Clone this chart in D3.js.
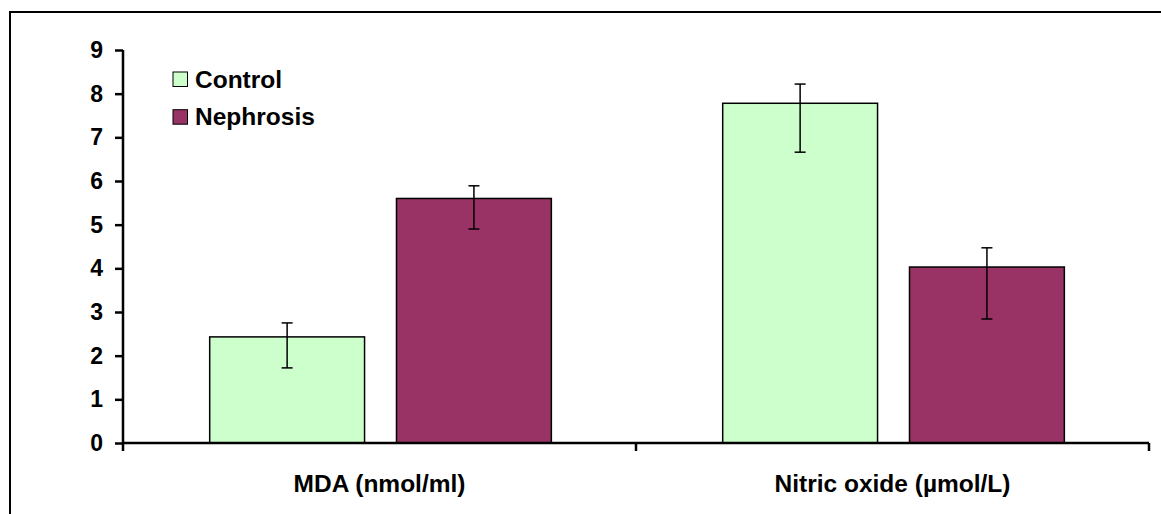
<!DOCTYPE html>
<html>
<head>
<meta charset="utf-8">
<script src="https://cdnjs.cloudflare.com/ajax/libs/d3/7.8.5/d3.min.js"></script>
<style>
  body { margin: 0; background: #fff; }
  svg text { font-family: "Liberation Sans", Arial, sans-serif; font-weight: bold; }
</style>
</head>
<body>
<div id="chart"></div>
<script>
var categories = ['MDA (nmol/ml)', 'Nitric oxide (\u00b5mol/L)'];
var groups = ['Control', 'Nephrosis'];
var colors = ['#ccffcc', '#993366'];
var controlValues = [2.43, 7.78];
var nephrosisValues = [5.60, 4.03];
// error bar ends [low, high]
var controlErr = [[1.72, 2.75], [6.66, 8.22]];
var nephrosisErr = [[4.90, 5.89], [2.84, 4.47]];
var yTicks = [0, 1, 2, 3, 4, 5, 6, 7, 8, 9];

var width = 1161, height = 514;
var svg = d3.select('#chart').append('svg')
    .attr('width', width)
    .attr('height', height);

// outer frame (only left and top visible)
svg.append('rect')
    .attr('x', 10).attr('y', 12)
    .attr('width', 1200).attr('height', 600)
    .attr('fill', 'none')
    .attr('stroke', '#000')
    .attr('stroke-width', 2);

var x0 = d3.scaleBand().domain(categories).range([123, 1149]);
var x1 = d3.scaleBand().domain(groups)
    .range([x0.bandwidth() * 0.169, x0.bandwidth() * 0.835])
    .paddingInner(0.171);
var y = d3.scaleLinear().domain([0, 9]).range([443, 50]);

var data = [];
categories.forEach(function(c, i) {
  data.push({cat: c, group: groups[0], value: controlValues[i], err: controlErr[i], color: colors[0]});
  data.push({cat: c, group: groups[1], value: nephrosisValues[i], err: nephrosisErr[i], color: colors[1]});
});

var g = svg.append('g');

g.selectAll('.bar')
  .data(data)
  .enter().append('rect')
    .attr('class', 'bar')
    .attr('x', function(d) { return x0(d.cat) + x1(d.group); })
    .attr('y', function(d) { return y(d.value); })
    .attr('width', x1.bandwidth())
    .attr('height', function(d) { return y(0) - y(d.value); })
    .attr('fill', function(d) { return d.color; })
    .attr('stroke', '#000')
    .attr('stroke-width', 1.5);

// error bars
var eb = g.selectAll('.err')
  .data(data)
  .enter().append('g')
    .attr('class', 'err')
    .attr('transform', function(d) { return 'translate(' + (x0(d.cat) + x1(d.group) + x1.bandwidth() / 2) + ',0)'; });
eb.append('line')
    .attr('y1', function(d) { return y(d.err[0]); })
    .attr('y2', function(d) { return y(d.err[1]); })
    .attr('stroke', '#000').attr('stroke-width', 1.5);
eb.selectAll('.cap')
  .data(function(d) { return d.err; })
  .enter().append('line')
    .attr('x1', -5.5).attr('x2', 5.5)
    .attr('y1', function(v) { return y(v); })
    .attr('y2', function(v) { return y(v); })
    .attr('stroke', '#000').attr('stroke-width', 1.5);

// y axis
var yAxis = svg.append('g')
    .attr('transform', 'translate(123,0)')
    .call(d3.axisLeft(y).tickValues(yTicks).tickSize(8).tickPadding(12));
yAxis.attr('font-size', null).attr('font-family', null);
yAxis.select('.domain').attr('stroke-width', 2.5).attr('d', 'M0,' + y(9) + 'V' + (y(0) + 8));
yAxis.selectAll('.tick line').attr('stroke-width', 2.5);
yAxis.selectAll('text').style('font-size', '23px').attr('fill', '#000');

// x axis with ticks at category edges
var xAxis = svg.append('g').attr('transform', 'translate(0,' + y(0) + ')');
xAxis.append('line')
    .attr('x1', 123).attr('x2', 1149)
    .attr('stroke', '#000').attr('stroke-width', 2.5);
xAxis.selectAll('.xt')
  .data(categories.slice(1).concat(['end']))
  .enter().append('line')
    .attr('x1', function(d) { return d === 'end' ? 1149 : x0(d); })
    .attr('x2', function(d) { return d === 'end' ? 1149 : x0(d); })
    .attr('y1', 0).attr('y2', 8)
    .attr('stroke', '#000').attr('stroke-width', 2.5);
xAxis.selectAll('.xl')
  .data(categories)
  .enter().append('text')
    .attr('x', function(d) { return x0(d) + x0.bandwidth() / 2; })
    .attr('y', 49)
    .attr('text-anchor', 'middle')
    .style('font-size', '24.5px')
    .text(function(d) { return d; });

// legend
var legend = svg.append('g').attr('transform', 'translate(173,72)');
var li = legend.selectAll('.li')
  .data(groups)
  .enter().append('g')
    .attr('transform', function(d, i) { return 'translate(0,' + i * 37.7 + ')'; });
li.append('rect')
    .attr('width', 14.5).attr('height', 14.5)
    .attr('fill', function(d, i) { return colors[i]; })
    .attr('stroke', '#000').attr('stroke-width', 1);
li.append('text')
    .attr('x', 22).attr('y', 15.5)
    .style('font-size', '24.5px')
    .text(function(d) { return d; });
</script>
</body>
</html>
